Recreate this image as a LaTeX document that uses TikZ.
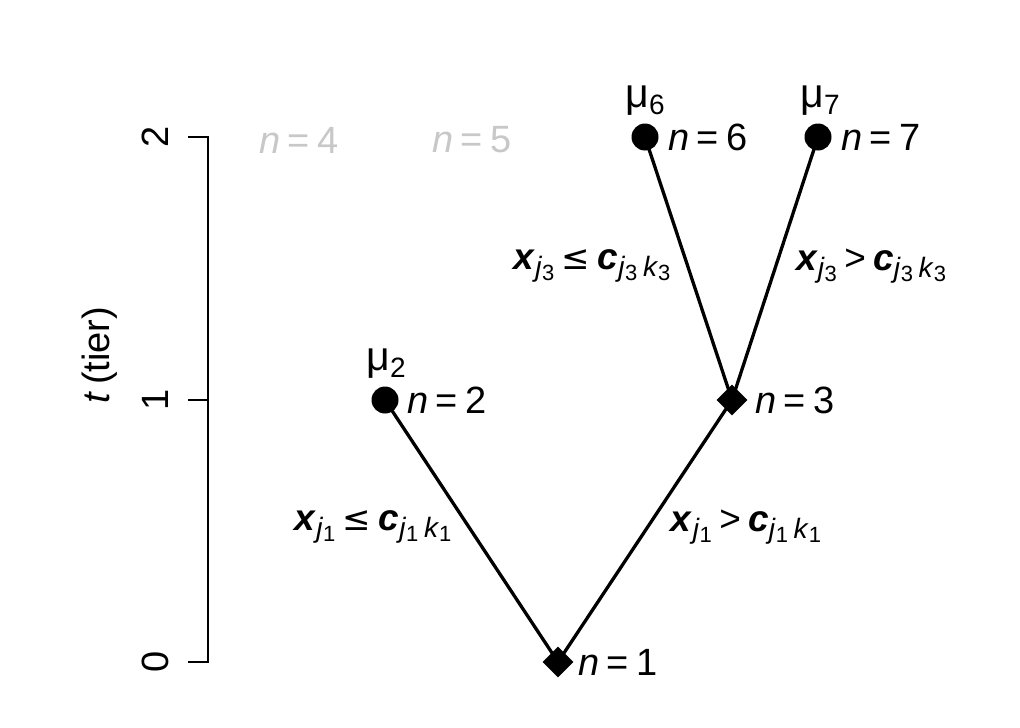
\documentclass[tikz,border=0pt]{standalone}
\usepackage{fontspec}
\setmainfont{Liberation Sans}
\newfontfamily\symfont{DejaVu Sans}
\usetikzlibrary{shapes.geometric}
\newcommand\lsub[1]{\raisebox{-0.32ex}{\fontsize{28}{28}\selectfont #1}}
\newcommand\lssub[1]{\raisebox{-0.28ex}{\fontsize{22}{22}\selectfont #1}}
\newcommand\eqs{\hspace{0.2em}=\hspace{0.2em}}
\newcommand\lesym{{\symfont\fontsize{34}{40}\selectfont ≤}}
\definecolor{lightg}{RGB}{200,200,200}
\tikzset{
  lab/.style={font=\fontsize{38}{44}\selectfont, inner sep=0pt},
  mlab/.style={font=\fontsize{41}{46}\selectfont, inner sep=0pt},
  elab/.style={font=\fontsize{37}{44}\selectfont, inner sep=0pt},
  dotnode/.style={circle, fill=black, draw=none, minimum size=27pt, inner sep=0pt},
  dianode/.style={diamond, fill=black, draw=none, minimum size=31pt, inner sep=0pt},
  edge/.style={line width=3.3pt},
  axisline/.style={line width=2.2pt}
}
\begin{document}
\begin{tikzpicture}[x=1pt,y=-1pt]
\useasboundingbox[fill=white] (0,0) rectangle (1020,728);
% axis
\draw[axisline] (188,137) -- (208,137) -- (208,662) -- (188,662);
\draw[axisline] (188,400) -- (208,400);
\node[lab, rotate=90] (t2) at (155,137) {2};
\node[lab, rotate=90] (t1) at (155,400) {1};
\node[lab, rotate=90] (t0) at (155,662) {0};
\node[lab, rotate=90] (tier) at (100,355) {\textit{t}\,(tier)};
% nodes
\node[dianode] (n1) at (558,662) {};
\node[dotnode] (n2) at (385,400) {};
\node[dianode] (n3) at (732,400) {};
\node[dotnode] (n6) at (645,137) {};
\node[dotnode] (n7) at (818,137) {};
\draw[edge] (n1.center) -- (n2.center);
\draw[edge] (n1.center) -- (n3.center);
\draw[edge] (n3.center) -- (n6.center);
\draw[edge] (n3.center) -- (n7.center);
% node labels
\node[lab, anchor=west] (l1) at (578,662) {\textit{n}\eqs 1};
\node[lab, anchor=west] (l2) at (407,400) {\textit{n}\eqs 2};
\node[lab, anchor=west] (l3) at (755,400) {\textit{n}\eqs 3};
\node[lab, anchor=west] (l6) at (668,137) {\textit{n}\eqs 6};
\node[lab, anchor=west] (l7) at (841,137) {\textit{n}\eqs 7};
\node[lab, text=lightg] (l4) at (299,140) {\textit{n}\eqs 4};
\node[lab, text=lightg] (l5) at (472,140) {\textit{n}\eqs 5};
\node[mlab] (m2) at (386,364) {μ\lsub{2}};
\node[mlab] (m6) at (645,101) {μ\lsub{6}};
\node[mlab] (m7) at (820,101) {μ\lsub{7}};
% edge labels
\node[elab] (e1) at (373,527) {\textbf{\textit{x}}\lsub{\textit{j}\lssub{1}}\hspace{0.2em}\lesym\hspace{0.2em}\textbf{\textit{c}}\lsub{\textit{j}\lssub{1}\hspace{0.2em}\textit{k}\lssub{1}}};
\node[elab] (e2) at (746,527) {\textbf{\textit{x}}\lsub{\textit{j}\lssub{1}}\hspace{0.2em}>\hspace{0.2em}\textbf{\textit{c}}\lsub{\textit{j}\lssub{1}\hspace{0.2em}\textit{k}\lssub{1}}};
\node[elab] (e3) at (592,266) {\textbf{\textit{x}}\lsub{\textit{j}\lssub{3}}\hspace{0.2em}\lesym\hspace{0.2em}\textbf{\textit{c}}\lsub{\textit{j}\lssub{3}\hspace{0.2em}\textit{k}\lssub{3}}};
\node[elab] (e4) at (871,266) {\textbf{\textit{x}}\lsub{\textit{j}\lssub{3}}\hspace{0.2em}>\hspace{0.2em}\textbf{\textit{c}}\lsub{\textit{j}\lssub{3}\hspace{0.2em}\textit{k}\lssub{3}}};
\end{tikzpicture}
\end{document}
